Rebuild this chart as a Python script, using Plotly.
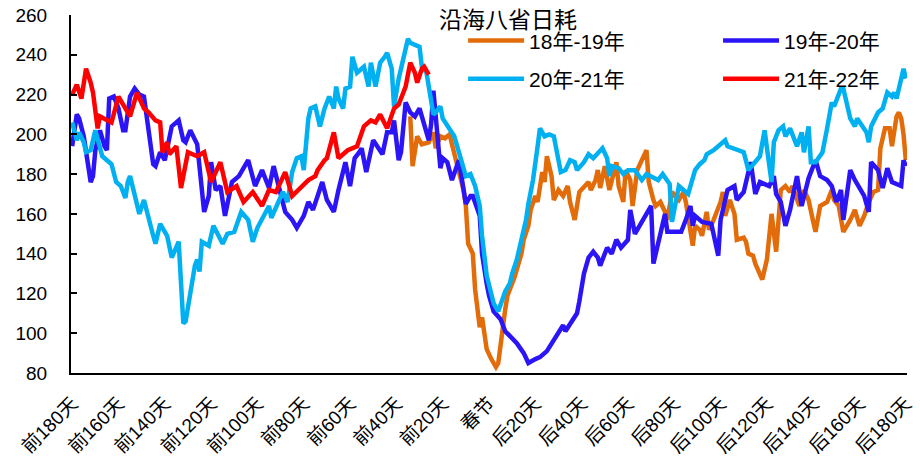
import plotly.graph_objects as go

# Day offsets relative to Spring Festival (negative = before, positive = after)
tick_days = list(range(-180, 181, 20))
tick_labels = ["前180天", "前160天", "前140天", "前120天", "前100天", "前80天", "前60天",
               "前40天", "前20天", "春节", "后20天", "后40天", "后60天", "后80天", "后100天",
               "后120天", "后140天", "后160天", "后180天"]

# 18年-19年
days_1819 = [-34, -33, -31, -29, -26, -24, -23, -21, -19, -17, -16, -13, -11, -10, -9, -7, -6, -4, -3, -2,
             -1, 1, 3, 4, 5, 7, 8, 10, 11, 13, 14, 15, 17, 18, 20, 21, 23, 24, 25, 27,
             28, 30, 32, 34, 35, 37, 39, 43, 44, 46, 47, 48, 50, 52, 53, 55, 56, 58, 59, 61,
             62, 64, 68, 69, 71, 72, 74, 76, 77, 79, 82, 84, 85, 87, 88, 89, 91, 92, 94, 95,
             97, 100, 101, 102, 104, 106, 107, 110, 111, 112, 114, 115, 117, 118, 120, 122, 124, 126, 128, 130,
             131, 134, 136, 138, 140, 141, 143, 146, 148, 149, 151, 153, 156, 158, 160, 162, 164, 166, 168, 169,
             171, 173, 174, 176, 177, 178, 179, 180]
vals_1819 = [209, 184, 199, 195, 196, 201, 193, 199, 198, 200, 195, 182, 172, 164, 145, 140, 122, 103, 108, 100,
             92, 87, 83, 85, 95, 112, 119, 125, 128, 136, 140, 147, 154, 162, 169, 166, 181, 176, 189, 179,
             167, 172, 169, 174, 166, 157, 171, 176, 172, 177, 182, 173, 184, 172, 177, 186, 174, 166, 182, 177,
             164, 182, 192, 176, 167, 164, 166, 161, 157, 171, 167, 171, 166, 149, 144, 154, 152, 149, 161, 152,
             157, 166, 171, 159, 167, 160, 147, 148, 146, 140, 139, 135, 130, 127, 137, 160, 141, 172, 174, 171,
             174, 164, 172, 167, 156, 151, 164, 166, 172, 167, 164, 151, 157, 162, 154, 159, 166, 171, 172, 193,
             203, 203, 194, 209, 211, 208, 200, 187]

# 19年-20年
days_1920 = [-180, -178, -177, -175, -172, -171, -170, -168, -166, -165, -164, -162, -160, -158, -157, -155,
             -153, -151, -149, -147, -145, -144, -142, -140, -137, -134, -132, -131, -129, -126, -123, -121,
             -120, -118, -116, -114, -111, -108, -104, -101, -98, -95, -93, -88, -85, -83, -80, -78,
             -76, -74, -72, -70, -67, -65, -62, -60, -58, -56, -55, -53, -50, -46, -44, -42,
             -41, -39, -38, -36, -34, -32, -30, -29, -26, -25, -24, -21, -20, -18, -16, -13,
             -11, -10, -8, -7, -4, -3, -1, 0, 2, 5, 7, 10, 12, 15, 17, 20,
             22, 25, 28, 30, 32, 33, 35, 38, 39, 41, 43, 45, 47, 48, 51, 53,
             55, 57, 60, 61, 63, 65, 68, 70, 71, 74, 76, 77, 83, 85, 87, 88,
             89, 92, 96, 99, 100, 102, 103, 106, 107, 110, 112, 113, 115, 117, 121, 123,
             124, 126, 128, 130, 133, 135, 138, 141, 143, 146, 148, 150, 152, 153, 156, 158,
             162, 164, 165, 168, 170, 172, 174, 178, 179, 180]
vals_1920 = [194, 210, 208, 199, 176, 179, 192, 202, 194, 192, 218, 219, 213, 202, 202, 219,
             223, 220, 219, 201, 185, 184, 191, 187, 204, 207, 197, 196, 202, 195, 161, 169,
             186, 172, 174, 159, 176, 179, 187, 174, 182, 173, 184, 161, 157, 153, 159, 166,
             162, 169, 176, 167, 161, 172, 186, 174, 188, 191, 193, 181, 197, 190, 201, 201,
             207, 187, 191, 216, 211, 209, 213, 209, 197, 205, 222, 183, 188, 186, 177, 187,
             174, 165, 169, 169, 159, 140, 125, 119, 111, 107, 101, 97, 95, 90, 85, 87,
             88, 91, 97, 100, 104, 101, 105, 110, 116, 130, 138, 141, 138, 134, 143, 140,
             147, 143, 147, 162, 150, 154, 159, 164, 135, 150, 160, 151, 151, 157, 164, 154,
             159, 156, 155, 139, 157, 167, 172, 174, 167, 171, 182, 186, 170, 176, 174, 179,
             170, 166, 154, 162, 179, 164, 178, 187, 179, 177, 174, 166, 172, 157, 182, 177,
             169, 161, 186, 182, 173, 183, 176, 174, 187, 184]

# 20年-21年
days_2021 = [-180, -178, -177, -175, -174, -172, -170, -167, -165, -163, -161, -159, -157, -156, -155, -152,
             -151, -149, -147, -145, -144, -142, -139, -137, -134, -133, -132, -131, -129, -127, -126, -125,
             -124, -121, -120, -119, -115, -113, -110, -107, -104, -102, -100, -98, -95, -94, -91, -89,
             -87, -85, -83, -81, -80, -78, -77, -75, -73, -71, -69, -67, -66, -65, -63, -62,
             -60, -59, -57, -54, -52, -51, -49, -47, -45, -44, -42, -41, -39, -35, -34, -30,
             -29, -27, -26, -24, -23, -21, -20, -17, -15, -13, -11, -10, -8, -6, -4, -3,
             -1, 2, 4, 5, 7, 9, 10, 12, 14, 16, 17, 19, 21, 22, 24, 26,
             28, 30, 31, 33, 35, 37, 38, 41, 43, 45, 49, 51, 52, 53, 56, 58,
             60, 63, 66, 68, 73, 75, 78, 79, 82, 84, 86, 89, 91, 93, 94, 97,
             100, 102, 103, 107, 110, 112, 115, 117, 119, 122, 123, 125, 127, 128, 130, 133,
             135, 136, 138, 139, 141, 144, 146, 148, 149, 152, 153, 156, 158, 159, 163, 164,
             165, 168, 170, 172, 174, 175, 176, 178, 179, 180]
vals_2021 = [206, 197, 201, 196, 191, 192, 202, 189, 187, 185, 176, 174, 168, 176, 179, 166,
             160, 167, 157, 149, 145, 155, 149, 138, 146, 120, 105, 106, 120, 134, 137, 131,
             146, 144, 149, 154, 145, 150, 151, 161, 157, 146, 153, 157, 164, 158, 166, 171,
             166, 181, 188, 189, 182, 208, 213, 214, 204, 213, 219, 213, 224, 218, 213, 223,
             224, 239, 231, 234, 224, 236, 224, 236, 239, 241, 233, 214, 228, 248, 246, 244,
             234, 231, 224, 210, 211, 214, 208, 203, 199, 191, 182, 179, 180, 174, 164, 149,
             129, 115, 111, 115, 121, 125, 130, 137, 147, 157, 165, 177, 194, 203, 199, 200,
             199, 187, 181, 182, 187, 186, 182, 186, 190, 188, 193, 188, 179, 184, 183, 180,
             182, 182, 177, 180, 177, 180, 175, 156, 174, 172, 170, 182, 185, 187, 190, 192,
             195, 197, 194, 192, 191, 182, 186, 189, 202, 176, 196, 202, 204, 199, 203, 194,
             201, 191, 204, 186, 186, 191, 203, 216, 214, 223, 223, 208, 204, 208, 201, 196,
             204, 211, 213, 221, 219, 221, 218, 229, 233, 228]

# 21年-22年
days_2122 = [-180, -178, -176, -174, -172, -171, -169, -168, -163, -160, -155, -152, -149, -147, -144, -142,
             -141, -139, -138, -135, -133, -130, -126, -123, -120, -116, -113, -109, -106, -102, -98, -95,
             -92, -88, -85, -81, -78, -75, -74, -71, -70, -67, -65, -61, -57, -54, -51, -49,
             -47, -44, -41, -39, -37, -36, -34, -32, -31, -29, -28, -26]
vals_2122 = [220, 225, 218, 233, 226, 221, 203, 209, 206, 219, 209, 221, 213, 211, 207, 206,
             191, 196, 190, 194, 173, 191, 189, 191, 176, 186, 171, 174, 166, 171, 164, 172,
             171, 181, 169, 174, 177, 179, 182, 187, 188, 201, 188, 192, 194, 204, 207, 206,
             210, 203, 213, 215, 221, 224, 236, 231, 226, 233, 234, 230]

# name, x, y, colour, legend id, legend anchor (paper coords)
series = [
    ("18年-19年", days_1819, vals_1819, "#E36C0A", "legend", (0.469, 0.928)),
    ("19年-20年", days_1920, vals_1920, "#2B14F5", "legend2", (0.774, 0.928)),
    ("20年-21年", days_2021, vals_2021, "#00B0F0", "legend3", (0.469, 0.821)),
    ("21年-22年", days_2122, vals_2122, "#FF0000", "legend4", (0.774, 0.821)),
]

LATIN = "Liberation Sans, Arial, Noto Sans CJK SC, sans-serif"

fig = go.Figure()
legends = {}
for name, xs, ys, color, lg, (lx, ly) in series:
    fig.add_trace(go.Scatter(
        x=xs, y=ys, name=name, mode="lines",
        line=dict(color=color, width=4.5),
        legend=lg,
    ))
    legends[lg] = dict(
        x=lx, y=ly, xanchor="left", yanchor="middle",
        orientation="h", itemwidth=56,
        font=dict(family=LATIN, size=21, color="#000000"),
        bgcolor="rgba(0,0,0,0)", borderwidth=0,
    )

fig.update_layout(
    width=920, height=457,
    margin=dict(l=71, r=13, t=15, b=84, autoexpand=False),
    paper_bgcolor="white", plot_bgcolor="white",
    showlegend=True,
    **legends,
    xaxis=dict(
        range=[-180.5, 180.5],
        tickmode="array", tickvals=tick_days, ticktext=tick_labels,
        tickangle=-45, ticks="", showgrid=False, zeroline=False,
        showline=True, linecolor="#000000", linewidth=2,
        ticklabelstandoff=10,
        tickfont=dict(family=LATIN, size=19, color="#000000"),
    ),
    yaxis=dict(
        range=[80, 260], tickmode="linear", tick0=80, dtick=20,
        ticks="inside", ticklen=6, tickwidth=2, tickcolor="#000000",
        showgrid=False, zeroline=False,
        showline=True, linecolor="#000000", linewidth=2,
        ticklabelstandoff=18,
        tickfont=dict(family=LATIN, size=19, color="#000000"),
    ),
    annotations=[dict(
        text="沿海八省日耗", x=0.523, y=0.992, xref="paper", yref="paper",
        xanchor="center", yanchor="middle", showarrow=False,
        font=dict(family="Noto Sans CJK SC", size=23, color="#000000"),
    )],
)

fig.write_html("out.html")
